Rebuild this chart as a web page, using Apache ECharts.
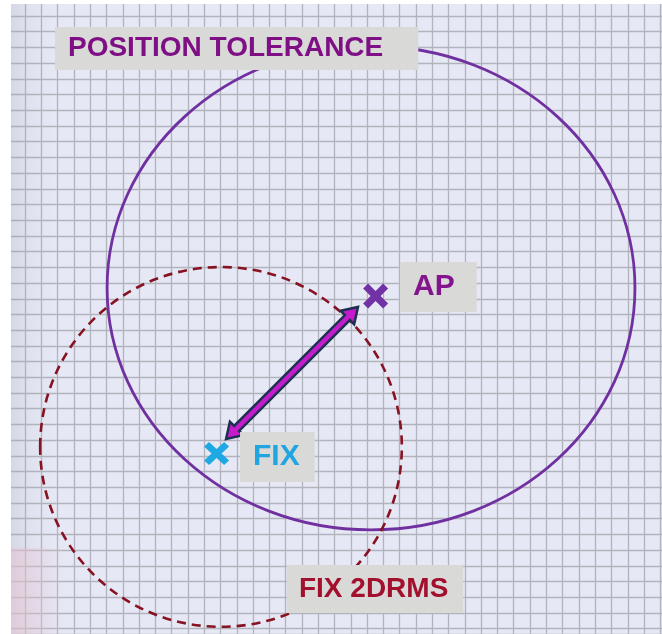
<!DOCTYPE html>
<html>
<head>
<meta charset="utf-8">
<script src="https://cdn.jsdelivr.net/npm/echarts@6/dist/echarts.min.js"></script>
<style>
  html, body { margin: 0; padding: 0; background: #fff; }
  #chart { width: 662px; height: 634px; }
</style>
</head>
<body>
<div id="chart"></div>
<script>
// grid units: 1 unit = one square of the graph paper
// circles: [centerX, centerY, radiusX, radiusY]
const toleranceCircle = [21.24, 17.31, 16.2, 15.4];
const drmsCircle = [12.03, 27.43, 11.1, 11.45];

// markers
const apPoint = [21.52, 17.82];
const fixPoint = [11.76, 27.85];

// double arrow between fix and ap: [x1, y1, x2, y2]
const arrowEnds = [12.34, 26.93, 20.44, 18.52];

// labels (anchor = left edge, vertical middle of the box)
const labelText = ['POSITION TOLERANCE', 'AP', 'FIX', 'FIX 2DRMS'];
const labelAnchor = [[1.84, 2.07], [23.02, 17.25], [13.20, 28.07], [16.08, 36.47]];

const chart = echarts.init(document.getElementById('chart'));

const labelColors = ['#7e0f84', '#84148e', '#1fa6e0', '#a3102e'];
const labelSizes = [28, 30, 30, 28];
const labelPads = [[7, 35, 8, 13], [10, 22, 10, 13], [10, 15, 10, 13], [10, 15, 10, 12]];

const ellipseItem = (stroke, width, dash) => (params, api) => {
  const c = api.coord([api.value(0), api.value(1)]);
  const s = api.size([api.value(2), api.value(3)]);
  return {
    type: 'ellipse',
    shape: { cx: c[0], cy: c[1], rx: s[0], ry: s[1] },
    style: { fill: 'none', stroke: stroke, lineWidth: width, lineDash: dash }
  };
};

const arrowItem = (params, api) => {
  const a = api.coord([api.value(0), api.value(1)]);
  const b = api.coord([api.value(2), api.value(3)]);
  const len = Math.hypot(b[0] - a[0], b[1] - a[1]);
  const ux = (b[0] - a[0]) / len, uy = (b[1] - a[1]) / len;
  const nx = -uy, ny = ux;
  const hw = 3.5, HW = 9.5, L = 15;
  const pt = (p, along, side) => [p[0] + ux * along + nx * side, p[1] + uy * along + ny * side];
  return {
    type: 'polygon',
    shape: {
      points: [
        a, pt(a, L, HW), pt(a, L, hw), pt(b, -L, hw), pt(b, -L, HW),
        b, pt(b, -L, -HW), pt(b, -L, -hw), pt(a, L, -hw), pt(a, L, -HW)
      ]
    },
    style: { fill: '#c41ccc', stroke: '#1d3050', lineWidth: 2.5, lineJoin: 'miter' }
  };
};

const crossPath = 'path://M0,2L2,0L5,3L8,0L10,2L7,5L10,8L8,10L5,7L2,10L0,8L3,5Z';

const labelSeries = labelText.map((t, i) => ({
  type: 'scatter',
  z: 10,
  silent: true,
  symbolSize: 0,
  itemStyle: { opacity: 1 },
  data: [labelAnchor[i]],
  label: {
    show: true,
    position: 'right',
    distance: 0,
    formatter: t,
    color: labelColors[i],
    fontFamily: 'Liberation Sans, Arial, sans-serif',
    fontWeight: 'bold',
    fontSize: labelSizes[i],
    lineHeight: labelSizes[i],
    backgroundColor: '#d9d9d7',
    padding: labelPads[i]
  }
}));

const gridLine = { show: true, lineStyle: { color: '#b2b4bd', width: 1.3 } };

const option = {
  backgroundColor: '#ffffff',
  animation: false,
  grid: {
    left: 8.71, top: 0.29, right: 0, bottom: 0,
    show: true, backgroundColor: '#e6e8f5', borderWidth: 0
  },
  xAxis: {
    type: 'value', min: -1, max: 39.1, interval: 1,
    axisLine: { show: false }, axisTick: { show: false }, axisLabel: { show: false },
    splitLine: gridLine
  },
  yAxis: {
    type: 'value', inverse: true, min: -1, max: 39.34, interval: 1,
    axisLine: { show: false }, axisTick: { show: false }, axisLabel: { show: false },
    splitLine: gridLine
  },
  graphic: [
    { type: 'rect', z: 1, shape: { x: 11, y: 4, width: 45, height: 630 },
      style: { fill: new echarts.graphic.LinearGradient(0, 0, 1, 0, [
        { offset: 0, color: 'rgba(150,155,175,0.22)' },
        { offset: 0.4, color: 'rgba(150,155,175,0.08)' },
        { offset: 1, color: 'rgba(150,155,175,0)' }
      ]) } },
    { type: 'rect', z: 1, shape: { x: 11, y: 548, width: 55, height: 86 },
      style: { fill: new echarts.graphic.LinearGradient(0, 0, 1, 0, [
        { offset: 0, color: 'rgba(232,196,210,0.6)' },
        { offset: 0.6, color: 'rgba(232,196,210,0.25)' },
        { offset: 1, color: 'rgba(232,196,210,0)' }
      ]) } },
    { type: 'rect', z: 1, shape: { x: 0, y: 0, width: 11, height: 634 }, style: { fill: '#ffffff' } },
    { type: 'rect', z: 1, shape: { x: 0, y: 0, width: 662, height: 4 }, style: { fill: '#ffffff' } }
  ],
  series: [
    {
      type: 'custom', z: 3, silent: true,
      data: [toleranceCircle],
      renderItem: ellipseItem('#7030a0', 2.8, null)
    },
    {
      type: 'custom', z: 3, silent: true,
      data: [drmsCircle],
      renderItem: ellipseItem('#861222', 2.6, [9, 6])
    },
    {
      type: 'custom', z: 4, silent: true,
      data: [arrowEnds],
      renderItem: arrowItem
    },
    {
      type: 'scatter', z: 5, silent: true, symbol: crossPath, symbolSize: 25,
      itemStyle: { color: '#7232a6', opacity: 1 },
      data: [apPoint]
    },
    {
      type: 'scatter', z: 5, silent: true, symbol: crossPath, symbolSize: [25, 23],
      itemStyle: { color: '#1ea8e4', opacity: 1 },
      data: [fixPoint]
    }
  ].concat(labelSeries)
};

chart.setOption(option);
</script>
</body>
</html>
